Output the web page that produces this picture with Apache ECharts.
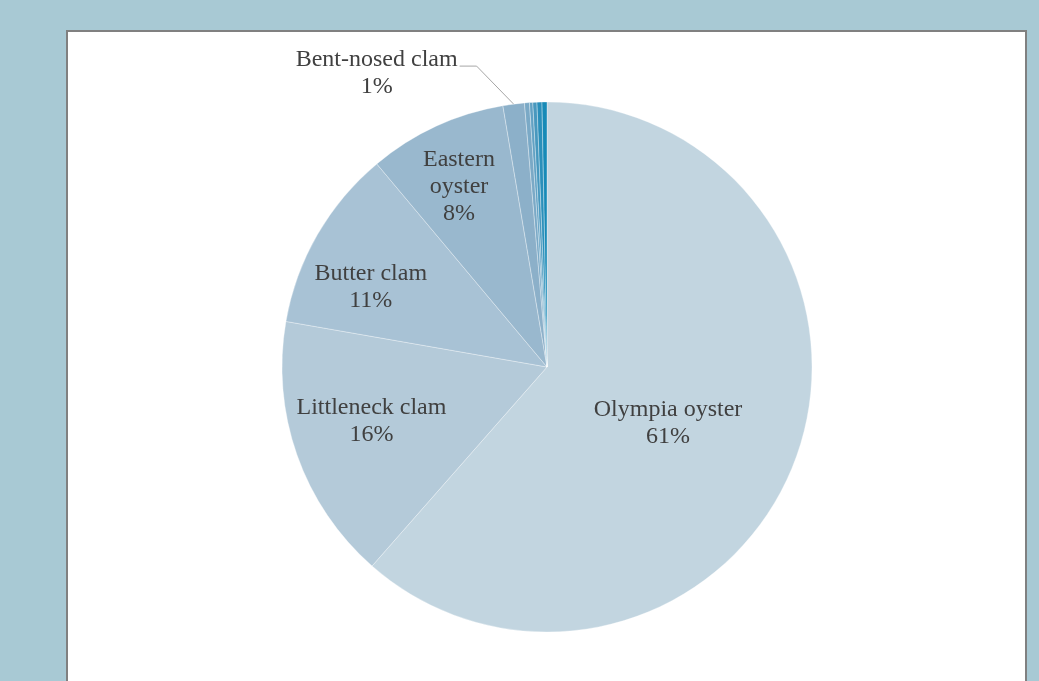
<!DOCTYPE html>
<html>
<head>
<meta charset="utf-8">
<title>Shellfish remains by species</title>
<script src="https://cdn.jsdelivr.net/npm/echarts@6/dist/echarts.min.js"></script>
<style>
  html, body { margin: 0; padding: 0; background: #a8c9d4; }
  #chart { width: 1039px; height: 681px; }
</style>
</head>
<body>
<div id="chart"></div>
<script>
// Share of shellfish remains by species (percent), clockwise from 12 o'clock
const species = ['Olympia oyster', 'Littleneck clam', 'Butter clam', 'Eastern oyster', 'Bent-nosed clam',
                 'Pacific oyster', 'Horse clam', 'Cockle', 'Manila clam', 'Geoduck'];
const shares = [61.2, 16.2, 11.1, 8.4, 1.3, 0.3, 0.2, 0.25, 0.3, 0.3];
const labelled = [true, true, true, true, true, false, false, false, false, false];

// Styling
const sliceColors = ['#c2d5e0', '#b4cad9', '#a8c2d5', '#99b8ce', '#8cb0c9',
                     '#7aa9c6', '#62a1c3', '#4898be', '#2a8fba', '#178ab7'];
const CX = 547, CY = 367, R = 265;
// radial position (fraction of radius) and angular nudge (deg) of each inside label
const labelRadius = [0.503, 0.693, 0.73, 0.756];
const labelNudge = [-4.1, -2.3, 5.6, 1.3];
const FONT = "'Liberation Serif', 'Times New Roman', serif";

const total = shares.reduce((s, v) => s + v, 0);
const pct = v => Math.round(v / total * 100) + '%';

// mid angle of each slice in math convention (degrees, counter-clockwise from +x)
const midAngles = [];
let acc = 0;
shares.forEach(v => {
  midAngles.push(90 - 360 * (acc + v / 2) / total);
  acc += v;
});
const polar = (deg, r) => {
  const a = deg * Math.PI / 180;
  return [CX + r * Math.cos(a), CY - r * Math.sin(a)];
};

const insideNames = { 'Eastern oyster': 'Eastern\noyster' };

const data = species.map((name, i) => {
  const item = { name, value: shares[i], itemStyle: { color: sliceColors[i] } };
  if (!labelled[i]) {
    item.label = { show: false };
    item.labelLine = { show: false };
  } else if (i === 4) {
    item.label = { show: true, position: 'outside' };
    item.labelLine = { show: true, lineStyle: { color: '#a6a6a6', width: 1 } };
  } else {
    item.label = { show: true, position: 'inside' };
    item.labelLine = { show: false };
  }
  return item;
});

const chart = echarts.init(document.getElementById('chart'), null, { renderer: 'canvas' });

chart.setOption({
  backgroundColor: '#a8c9d4',
  animation: false,
  graphic: [{
    type: 'rect',
    z: -10,
    shape: { x: 67, y: 31, width: 959, height: 720 },
    style: { fill: '#ffffff', stroke: '#808080', lineWidth: 2 }
  }],
  series: [{
    type: 'pie',
    center: [CX, CY],
    radius: [0, R],
    startAngle: 90,
    clockwise: true,
    avoidLabelOverlap: false,
    itemStyle: { borderColor: 'rgba(255,255,255,0.55)', borderWidth: 0.6 },
    emphasis: { disabled: true },
    label: {
      fontFamily: FONT,
      fontSize: 24,
      lineHeight: 27,
      color: '#404040',
      align: 'center',
      formatter: p => (insideNames[p.name] || p.name) + '\n' + pct(p.value)
    },
    labelLine: { length: 30, length2: 20 },
    labelLayout: function (p) {
      const i = p.dataIndex;
      if (i === 4) {
        const anchor = polar(midAngles[i], R);
        const elbow = [anchor[0] - 37, anchor[1] - 38];
        const w = p.labelRect.width;
        const right = elbow[0] - 17;
        const cx = right - w / 2 - 2;
        return {
          x: cx,
          y: elbow[1] + 7,
          align: 'center',
          verticalAlign: 'middle',
          labelLinePoints: [anchor, elbow, [right, elbow[1]]]
        };
      }
      if (i < 4) {
        const pos = polar(midAngles[i] + labelNudge[i], R * labelRadius[i]);
        return { x: pos[0], y: pos[1], align: 'center', verticalAlign: 'middle' };
      }
      return {};
    },
    data: data
  }]
});
</script>
</body>
</html>
